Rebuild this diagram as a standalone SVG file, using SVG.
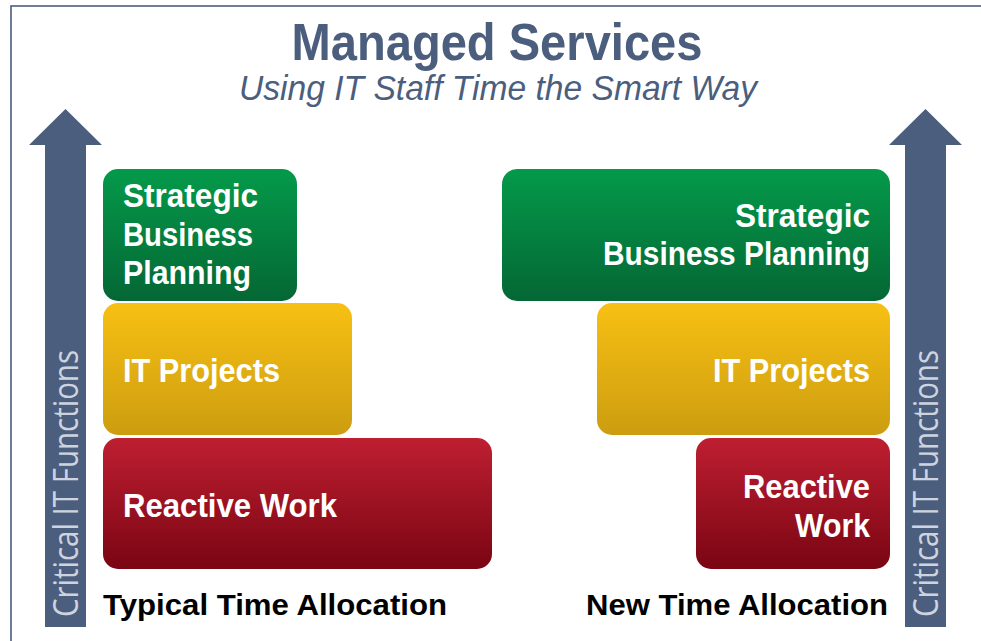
<svg xmlns="http://www.w3.org/2000/svg" width="981" height="641" viewBox="0 0 981 641">
<defs>
<linearGradient id="gGreen" x1="0" y1="0" x2="0" y2="1"><stop offset="0" stop-color="#049a4a"/><stop offset="1" stop-color="#046735"/></linearGradient>
<linearGradient id="gYellow" x1="0" y1="0" x2="0" y2="1"><stop offset="0" stop-color="#f8c013"/><stop offset="1" stop-color="#cc9d10"/></linearGradient>
<linearGradient id="gRed" x1="0" y1="0" x2="0" y2="1"><stop offset="0" stop-color="#be1f31"/><stop offset="1" stop-color="#7a0513"/></linearGradient>
<style>
.box-label{font-family:"Liberation Sans",Arial,sans-serif;font-weight:bold;font-size:33.5px;fill:#ffffff}
.caption{font-family:"Liberation Sans",Arial,sans-serif;font-weight:bold;font-size:30px;fill:#000000}
.axis{font-family:"Open Sans","Liberation Sans",sans-serif;font-size:35px;fill:#cdd4df}
.arrow{fill:#4b5e7e}
</style>
</defs>
<rect x="0" y="0" width="981" height="641" fill="#ffffff"/>
<rect x="11" y="6" width="1000" height="700" fill="none" stroke="#4b5e7e" stroke-width="1.6"/>
<g id="title">
<text x="497" y="60" text-anchor="middle" textLength="411" lengthAdjust="spacingAndGlyphs" style="font-family:'Liberation Sans',Arial,sans-serif;font-weight:bold;font-size:52px;fill:#4b5e7e">Managed Services</text>
<text x="498" y="100" text-anchor="middle" textLength="518" lengthAdjust="spacingAndGlyphs" style="font-family:'Liberation Sans',Arial,sans-serif;font-style:italic;font-size:35px;fill:#4b5e7e">Using IT Staff Time the Smart Way</text>
</g>
<g id="arrow-left">
<path class="arrow" d="M65.5,109 L102,145 L86,145 L86,627 L45,627 L45,145 L29,145 Z"/>
<text class="axis" transform="translate(78,617) rotate(-90)" textLength="267" lengthAdjust="spacingAndGlyphs">Critical IT Functions</text>
</g>
<g id="arrow-right">
<path class="arrow" d="M925.5,109 L962,145 L946,145 L946,627 L905,627 L905,145 L889,145 Z"/>
<text class="axis" transform="translate(938,617) rotate(-90)" textLength="267" lengthAdjust="spacingAndGlyphs">Critical IT Functions</text>
</g>
<g id="left-strategic">
<rect x="103" y="169" width="194" height="132" rx="15" fill="url(#gGreen)"/>
<text class="box-label" x="123" y="207" textLength="135" lengthAdjust="spacingAndGlyphs">Strategic</text>
<text class="box-label" x="123" y="246" textLength="130" lengthAdjust="spacingAndGlyphs">Business</text>
<text class="box-label" x="123" y="284" textLength="128" lengthAdjust="spacingAndGlyphs">Planning</text>
</g>
<g id="left-projects">
<rect x="103" y="303" width="249" height="132" rx="15" fill="url(#gYellow)"/>
<text class="box-label" x="123" y="382" textLength="157" lengthAdjust="spacingAndGlyphs">IT Projects</text>
</g>
<g id="left-reactive">
<rect x="103" y="438" width="389" height="131" rx="15" fill="url(#gRed)"/>
<text class="box-label" x="123" y="517" textLength="214" lengthAdjust="spacingAndGlyphs">Reactive Work</text>
</g>
<text class="caption" x="103" y="615" textLength="344" lengthAdjust="spacingAndGlyphs">Typical Time Allocation</text>
<g id="right-strategic">
<rect x="502" y="169" width="388" height="132" rx="15" fill="url(#gGreen)"/>
<text class="box-label" x="870" y="227" text-anchor="end" textLength="135" lengthAdjust="spacingAndGlyphs">Strategic</text>
<text class="box-label" x="870" y="265" text-anchor="end" textLength="267" lengthAdjust="spacingAndGlyphs">Business Planning</text>
</g>
<g id="right-projects">
<rect x="597" y="303" width="293" height="132" rx="15" fill="url(#gYellow)"/>
<text class="box-label" x="870" y="382" text-anchor="end" textLength="157" lengthAdjust="spacingAndGlyphs">IT Projects</text>
</g>
<g id="right-reactive">
<rect x="696" y="438" width="194" height="131" rx="15" fill="url(#gRed)"/>
<text class="box-label" x="870" y="498" text-anchor="end" textLength="127" lengthAdjust="spacingAndGlyphs">Reactive</text>
<text class="box-label" x="870" y="537" text-anchor="end" textLength="75" lengthAdjust="spacingAndGlyphs">Work</text>
</g>
<text class="caption" x="888" y="615" text-anchor="end" textLength="302" lengthAdjust="spacingAndGlyphs">New Time Allocation</text>
<g id="connectors"></g>
</svg>
